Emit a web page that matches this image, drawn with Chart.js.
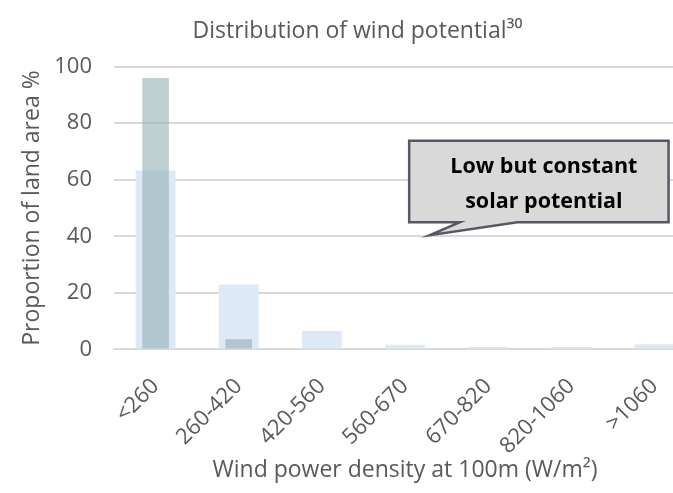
<!DOCTYPE html>
<html>
<head>
<meta charset="utf-8">
<script src="https://cdn.jsdelivr.net/npm/chart.js@4"></script>
<style>
    html, body { margin: 0; padding: 0; overflow: hidden; background: #fff; }
    #wrap { width: 708px; height: 493px; }
</style>
</head>
<body>
<div id="wrap"><canvas id="windChart" width="708" height="493"></canvas></div>
<script>
// categories (W/m2)
const categories = ['<260', '260-420', '420-560', '560-670', '670-820', '820-1060', '>1060'];
// narrow dark bars
const darkValues = [96, 3.6, 0, 0, 0, 0, 0];
// wide light bars
const lightValues = [63.3, 23, 6.5, 1.7, 0.9, 0.9, 1.8];
const yTicks = [0, 20, 40, 60, 80, 100];

const fontName = '"Open Sans", sans-serif';
const grey = '#595959';

// callout box, in scale units (x = category index, y = %)
const callout = {
    left: 3.05, right: 6.17, top: 73.8, bottom: 45,
    tailA: 3.66, tailB: 4.35, tipX: 3.3, tipY: 40.4,
    lines: ['Low but constant', 'solar potential']
};

const calloutPlugin = {
    id: 'callout',
    afterDatasetsDraw(chart) {
        const ctx = chart.ctx;
        const xs = chart.scales.x, ys = chart.scales.y;
        const l = xs.getPixelForValue(callout.left), r = xs.getPixelForValue(callout.right);
        const t = ys.getPixelForValue(callout.top), b = ys.getPixelForValue(callout.bottom);
        ctx.save();
        ctx.beginPath();
        ctx.moveTo(l, t);
        ctx.lineTo(r, t);
        ctx.lineTo(r, b);
        ctx.lineTo(xs.getPixelForValue(callout.tailB), b);
        ctx.lineTo(xs.getPixelForValue(callout.tipX), ys.getPixelForValue(callout.tipY));
        ctx.lineTo(xs.getPixelForValue(callout.tailA), b);
        ctx.lineTo(l, b);
        ctx.closePath();
        ctx.fillStyle = '#d9d9d9';
        ctx.fill();
        ctx.lineWidth = 2.5;
        ctx.strokeStyle = '#555966';
        ctx.stroke();
        ctx.fillStyle = '#000';
        ctx.font = 'bold 21.5px ' + fontName;
        ctx.textAlign = 'center';
        ctx.textBaseline = 'middle';
        const cx = (l + r) / 2 + 5;
        const mid = (t + b) / 2;
        ctx.fillText(callout.lines[0], cx, mid - 15);
        ctx.fillText(callout.lines[1], cx, mid + 20);
        ctx.restore();
    }
};

let windCtx = document.getElementById('windChart');
if (windCtx) {
    windCtx = windCtx.getContext('2d');

    new Chart(windCtx, {
        type: 'bar',
        data: {
            labels: categories,
            datasets: [{
                data: darkValues,
                backgroundColor: 'rgba(145, 174, 178, 0.58)',
                grouped: false,
                categoryPercentage: 1,
                barPercentage: 0.32
            }, {
                data: lightValues,
                backgroundColor: 'rgb(222, 233, 247)',
                grouped: false,
                categoryPercentage: 1,
                barPercentage: 0.48
            }]
        },
        options: {
            responsive: false,
            animation: false,
            layout: {
                padding: { left: 19, right: 12, top: 0, bottom: 9 }
            },
            scales: {
                x: {
                    grid: { display: false },
                    border: { display: true, color: '#d9d9d9', width: 2 },
                    afterFit(axis) {
                        // rotated labels reserve too much room, trim it
                        axis.paddingLeft = 0;
                        axis.paddingRight = 0;
                        axis.height -= 33;
                    },
                    ticks: {
                        color: grey,
                        minRotation: 45,
                        maxRotation: 45,
                        padding: 16,
                        font: { family: fontName, size: 22 }
                    },
                    title: {
                        display: true,
                        text: 'Wind power density at 100m (W/m²)',
                        color: grey,
                        padding: { top: 14, bottom: 0 },
                        font: { family: fontName, size: 23 }
                    }
                },
                y: {
                    min: 0,
                    max: 100,
                    afterBuildTicks(axis) {
                        axis.ticks = yTicks.map(v => ({ value: v }));
                    },
                    afterFit(axis) {
                        axis.width = 95;
                    },
                    grid: { color: '#d9d9d9', lineWidth: 2, drawTicks: false },
                    border: { display: false },
                    ticks: {
                        color: grey,
                        padding: 22,
                        font: { family: fontName, size: 22 }
                    },
                    title: {
                        display: true,
                        text: 'Proportion of land area %',
                        color: grey,
                        padding: { top: 0, bottom: 7 },
                        font: { family: fontName, size: 23 }
                    }
                }
            },
            plugins: {
                legend: { display: false },
                tooltip: { enabled: false },
                title: {
                    display: true,
                    text: 'Distribution of wind potential³⁰',
                    color: grey,
                    padding: { top: 18, bottom: 21 },
                    font: { family: fontName, size: 23, weight: 'normal' }
                }
            }
        },
        plugins: [calloutPlugin]
    });
}
</script>
</body>
</html>
